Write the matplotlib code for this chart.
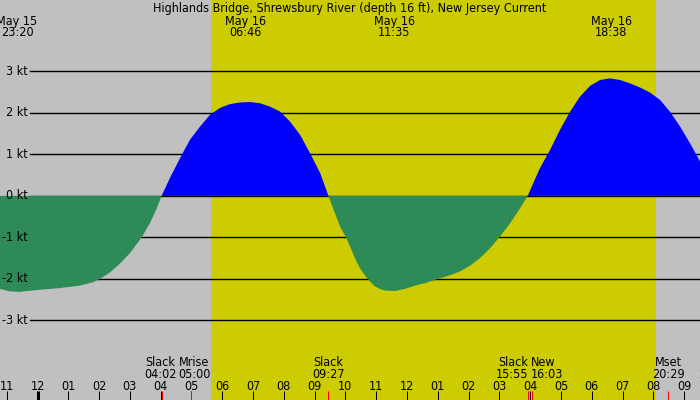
import matplotlib
matplotlib.use("Agg")
import matplotlib.pyplot as plt
import matplotlib.transforms as mtransforms

# current speed (hours from May 16 00:00, knots)
time_h = [-1.22, -0.89, -0.57, 0.08, 0.73, 1.38, 1.80, 2.03, 2.36, 2.68, 3.00, 3.39, 3.65, 3.88, 4.03,
          4.30, 4.63, 4.95, 5.28, 5.60, 5.93, 6.25, 6.58, 6.90, 7.23, 7.55, 7.88, 8.20, 8.53, 8.85, 9.18, 9.45,
          9.66, 9.83, 10.02, 10.15, 10.31, 10.47, 10.64, 10.80, 10.96, 11.12, 11.29, 11.61, 11.94, 12.26,
          12.59, 13.01, 13.40, 13.72, 14.05, 14.37, 14.70, 15.02, 15.35, 15.67, 15.92,
          16.32, 16.65, 16.97, 17.30, 17.62, 17.95, 18.27, 18.59, 18.92, 19.24, 19.57, 19.89, 20.22,
          20.54, 20.87, 21.19, 21.52]
speed_kt = [-2.24, -2.30, -2.31, -2.26, -2.22, -2.16, -2.08, -2.00, -1.84, -1.63, -1.38, -0.99, -0.66, -0.29, 0.0,
            0.43, 0.91, 1.35, 1.67, 1.95, 2.12, 2.21, 2.25, 2.26, 2.23, 2.15, 2.03, 1.79, 1.47, 1.03, 0.55, 0.0,
            -0.42, -0.74, -1.00, -1.22, -1.50, -1.74, -1.92, -2.06, -2.18, -2.24, -2.28, -2.29, -2.24, -2.16,
            -2.10, -2.00, -1.91, -1.82, -1.68, -1.50, -1.26, -0.98, -0.66, -0.30, 0.0,
            0.67, 1.11, 1.59, 2.03, 2.39, 2.65, 2.79, 2.83, 2.79, 2.71, 2.61, 2.49, 2.31,
            2.03, 1.67, 1.27, 0.83]

title = "Highlands Bridge, Shrewsbury River (depth 16 ft), New Jersey Current"
x_start, x_end = -1.218, 21.517
daylight = (5.635, 20.08)
kt_levels = [-3, -2, -1, 0, 1, 2, 3]

# max/min current times shown at top
peak_times = [-0.667, 6.767, 11.583, 18.633]
peak_dates = ["May 15", "May 16", "May 16", "May 16"]
peak_labels = ["23:20", "06:46", "11:35", "18:38"]

# events along the bottom
event_times = [4.033, 5.0, 9.45, 15.917, 16.05, 20.483, 21.97]
event_names = ["Slack", "Mrise", "Slack", "Slack", "New", "Mset", "Slack"]
event_labels = ["04:02", "05:00", "09:27", "15:55", "16:03", "20:29", "21:58"]
event_ha = ["center", "center", "center", "right", "left", "center", "center"]
event_dx = [-1, 3, 0, 1, -1, 0, 0]

GRAY = "#c0c0c0"
DAY = "#cccc00"
FLOOD = "#0000ff"
EBB = "#2e8b57"
FS = 9
FONT = dict(family="DejaVu Sans", fontstretch="condensed", fontsize=FS)

fig = plt.figure(figsize=(7, 4), dpi=100)
ax = fig.add_axes([0, 0, 1, 1])
ax.set_facecolor(GRAY)
ax.set_xlim(x_start, x_end)
ax.set_ylim(-4.915, 4.717)
ax.axis("off")


def py(px):
    # pixel row from top -> axes fraction
    return 1 - px / 400.0


ax.axvspan(daylight[0], daylight[1], color=DAY, lw=0, zorder=0)

blend = mtransforms.blended_transform_factory(ax.transAxes, ax.transData)
for v in kt_levels:
    ax.axhline(v, xmin=30 / 700, xmax=1, color="black", lw=1, zorder=1)
    ax.text(28 / 700, v, f"{v} kt", transform=blend, ha="right", va="center", zorder=5, **FONT)

ax.fill_between(time_h, speed_kt, 0, where=[s >= 0 for s in speed_kt], interpolate=True,
                color=FLOOD, lw=0, zorder=2)
ax.fill_between(time_h, speed_kt, 0, where=[s <= 0 for s in speed_kt], interpolate=True,
                color=EBB, lw=0, zorder=2)

bt = mtransforms.blended_transform_factory(ax.transData, ax.transAxes)
ax.text(0.5, py(12), title, transform=ax.transAxes, ha="center", va="baseline", **FONT)
for t, d, lab in zip(peak_times, peak_dates, peak_labels):
    ax.text(t, py(25), d, transform=bt, ha="center", va="baseline", **FONT)
    ax.text(t, py(36), lab, transform=bt, ha="center", va="baseline", **FONT)

# hour ticks
for h in range(-1, 22):
    lw = 3 if h % 24 == 0 else 1
    ax.plot([h, h], [py(391), py(400)], transform=bt, color="black", lw=lw * 0.72, zorder=3,
            solid_capstyle="butt")
    ax.text(h, py(390), f"{(h % 12) or 12:02d}", transform=bt, ha="center", va="baseline", **FONT)

for t, name, lab, ha, dx in zip(event_times, event_names, event_labels, event_ha, event_dx):
    ax.plot([t, t], [py(391), py(400)], transform=bt, color="red", lw=0.72, zorder=4,
            solid_capstyle="butt")
    off = mtransforms.offset_copy(bt, fig=fig, x=dx, y=0, units="dots")
    ax.text(t, py(366), name, transform=off, ha=ha, va="baseline", **FONT)
    ax.text(t, py(378), lab, transform=off, ha=ha, va="baseline", **FONT)

fig.savefig("out.png", dpi=100, facecolor=GRAY)
